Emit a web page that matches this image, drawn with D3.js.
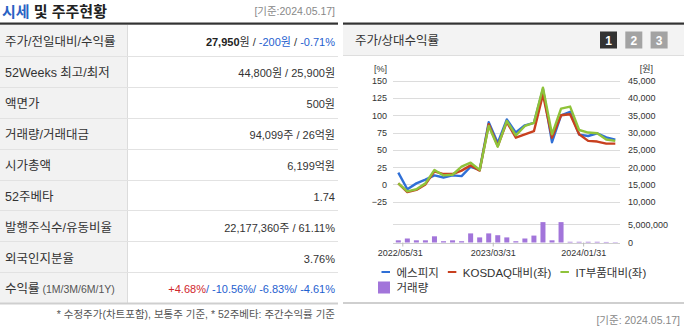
<!DOCTYPE html>
<html>
<head>
<meta charset="utf-8">
<script src="https://cdn.jsdelivr.net/npm/d3@7"></script>
<style>
  html, body { margin: 0; padding: 0; background: #fff; }
  svg { display: block; font-family: "Liberation Sans", "Noto Sans CJK KR", sans-serif; }
</style>
</head>
<body>
<svg id="page" width="684" height="327"></svg>
<script>
// ---- 시세 및 주주현황 table ----
const tableLabels = ["주가/전일대비/수익률", "52Weeks 최고/최저", "액면가", "거래량/거래대금", "시가총액",
  "52주베타", "발행주식수/유동비율", "외국인지분율", "수익률"];
const tableValues = [
  ["27,950원", "-200원", "-0.71%"],
  ["44,800원", "25,900원"],
  ["500원"],
  ["94,099주", "26억원"],
  ["6,199억원"],
  ["1.74"],
  ["22,177,360주", "61.11%"],
  ["3.76%"],
  ["+4.68%", "-10.56%", "-6.83%", "-4.61%"]
];
const baseDate = "2024.05.17";

// ---- 주가/상대수익률 chart ----
const dates = ["2022/05/31","2022/06/30","2022/07/31","2022/08/31","2022/09/30","2022/10/31","2022/11/30","2022/12/31",
  "2023/01/31","2023/02/28","2023/03/31","2023/04/30","2023/05/31","2023/06/30","2023/07/31","2023/08/31",
  "2023/09/30","2023/10/31","2023/11/30","2023/12/31","2024/01/31","2024/02/29","2024/03/31","2024/04/30","2024/05/17"];
// 에스피지 종가 (원, 우축)
const spgPrice = [18400,13600,15300,16400,17600,17000,17600,17400,20100,19200,33000,27000,33800,30000,32100,32800,
  42600,27200,35000,36000,29400,29000,29800,28600,27950];
// KOSDAQ 대비 상대수익률 (%, 좌축)
const kosdaqRel = [1.5,-11,-8,0,19,15,15,20,27.5,20,87,55.5,90,67.6,72.5,77,130,67.6,100,101.4,72.5,63,62,59,59];
// IT부품 대비 상대수익률 (%, 좌축)
const itRel = [1.5,-10,-7,1.5,20.8,13,14,25.6,31.4,21,84.5,54.6,91.8,71,84.5,89,140,72.5,109.6,112.6,78.7,75,74,65,63];
// 거래량 (주)
const volume = [600000,1100000,600000,600000,1700000,350000,600000,350000,2500000,1400000,2500000,2000000,1400000,
  350000,1100000,1900000,5600000,600000,5600000,200000,200000,200000,200000,150000,100000];
const pctTicks = [-25, 0, 25, 50, 75, 100, 125, 150];
const priceTicks = [10000, 15000, 20000, 25000, 30000, 35000, 40000, 45000];
const volTicks = [0, 5000000];
const dateTicks = ["2022/05/31", "2023/03/31", "2024/01/31"];
const seriesNames = ["에스피지", "KOSDAQ대비(좌)", "IT부품대비(좌)"];
const volumeName = "거래량";

const svg = d3.select("#page");
const BLUE = "#2f6fd6", RED = "#c8401f", GREEN = "#8fc33a", PURPLE = "#a275da";
const TXT = "#333";

// ===================== left panel =====================
const L = svg.append("g");
const title = L.append("text").attr("x", 2).attr("y", 11).attr("dominant-baseline", "central")
  .style("font-size", "15px").style("font-weight", "bold");
title.append("tspan").attr("fill", "#2a62c4").text("시세");
title.append("tspan").attr("fill", "#222").text(" 및 주주현황");
L.append("text").attr("x", 335).attr("y", 11).attr("text-anchor", "end").attr("dominant-baseline", "central")
  .style("font-size", "10.5px").attr("fill", "#888").text(`[기준:${baseDate}]`);

const tblTop = 25, rowH = 30.9, tblRight = 338, labelW = 127;
const rowY = d3.scaleLinear().domain([0, 1]).range([tblTop, tblTop + rowH]);
L.append("rect").attr("x", 0).attr("y", tblTop).attr("width", labelW).attr("height", rowH * tableLabels.length)
  .attr("fill", "#f2f2f2");
L.append("line").attr("x1", labelW + 0.5).attr("x2", labelW + 0.5).attr("y1", tblTop)
  .attr("y2", tblTop + rowH * tableLabels.length).attr("stroke", "#dcdcdc");
tableLabels.forEach((lab, i) => {
  if (i < tableLabels.length - 1) {
    L.append("line").attr("x1", 0).attr("x2", tblRight).attr("y1", Math.round(rowY(i + 1)) + 0.5)
      .attr("y2", Math.round(rowY(i + 1)) + 0.5).attr("stroke", "#e2e2e2");
  }
  const cy = rowY(i + 0.5) + 1.8;
  const t = L.append("text").attr("x", 5).attr("y", cy).attr("dominant-baseline", "central")
    .style("font-size", "12.5px").attr("fill", "#333");
  t.append("tspan").text(lab);
  if (i === tableLabels.length - 1) {
    t.append("tspan").style("font-size", "10.5px").attr("fill", "#555").text(" (1M/3M/6M/1Y)");
  }
  const v = L.append("text").attr("x", 335).attr("y", cy).attr("text-anchor", "end")
    .attr("dominant-baseline", "central").style("font-size", "11px").attr("fill", "#333");
  const sep = i === tableLabels.length - 1 ? "/ " : " / ";
  tableValues[i].forEach((part, j) => {
    const col = part.startsWith("-") ? "#1f5fcf" : part.startsWith("+") ? "#d0262c" : "#333";
    if (j > 0) {
      v.append("tspan").attr("fill", i === tableLabels.length - 1 ? col : "#333").text(sep);
    }
    if (i === 0 && j === 0) {
      const m = part.match(/^([\d,]+)(.*)$/);
      v.append("tspan").style("font-weight", "bold").attr("fill", "#222").text(m[1]);
      v.append("tspan").attr("fill", col).text(m[2]);
    } else {
      v.append("tspan").attr("fill", col).text(part);
    }
  });
});
// heavy rules
L.append("rect").attr("x", 0).attr("y", 22.5).attr("width", tblRight).attr("height", 2.2).attr("fill", "#333");
L.append("rect").attr("x", 0).attr("y", 302.5).attr("width", tblRight).attr("height", 2).attr("fill", "#cfcfcf");
L.append("text").attr("x", 335).attr("y", 314).attr("text-anchor", "end").attr("dominant-baseline", "central")
  .style("font-size", "10.5px").attr("fill", "#555").text("* 수정주가(차트포함), 보통주 기준, * 52주베타: 주간수익률 기준");

// ===================== right panel =====================
const R = svg.append("g");
const px0 = 343;
R.append("rect").attr("x", px0).attr("y", 24.5).attr("width", 684 - px0).attr("height", 31).attr("fill", "#f3f3f3");
R.append("line").attr("x1", px0).attr("x2", 684).attr("y1", 55.5).attr("y2", 55.5).attr("stroke", "#dedede");
R.append("rect").attr("x", px0).attr("y", 22.5).attr("width", 684 - px0).attr("height", 2.2).attr("fill", "#333");
R.append("text").attr("x", 355).attr("y", 41).attr("dominant-baseline", "central")
  .style("font-size", "12.5px").attr("fill", "#333").text("주가/상대수익률");
["1", "2", "3"].forEach((n, i) => {
  const bx = 600 + i * 25.3;
  R.append("rect").attr("x", bx).attr("y", 31.5).attr("width", 17).attr("height", 17)
    .attr("fill", i === 0 ? "#333" : "#a3a3a3");
  R.append("text").attr("x", bx + 8.5).attr("y", 40.5).attr("text-anchor", "middle").attr("dominant-baseline", "central")
    .style("font-size", "12px").style("font-weight", "bold").attr("fill", "#fff").text(n);
});

// scales
const gx0 = 393, gx1 = 620;
const x = d3.scaleLinear().domain([0, dates.length - 1]).range([398.3, 615.3]);
const yPct = d3.scaleLinear().domain([-25, 150]).range([201.7, 80.7]);
const yPrice = d3.scaleLinear().domain([10000, 45000]).range([201.7, 80.7]);
const yVol = d3.scaleLinear().domain([0, 5000000]).range([242.5, 224.3]);

// gridlines
R.append("g").selectAll("line").data(pctTicks).join("line")
  .attr("x1", gx0).attr("x2", gx1)
  .attr("y1", d => Math.round(yPct(d)) + 0.5).attr("y2", d => Math.round(yPct(d)) + 0.5)
  .attr("stroke", "#dcdcdc");
R.append("line").attr("x1", gx0).attr("x2", gx1)
  .attr("y1", Math.round(yVol(5000000)) + 0.5).attr("y2", Math.round(yVol(5000000)) + 0.5).attr("stroke", "#dcdcdc");

// axes
const axisStyle = g => {
  g.select(".domain").remove();
  g.selectAll(".tick line").remove();
  g.selectAll(".tick text").style("font-size", "9px").attr("fill", TXT)
    .style("font-family", "'Liberation Sans', 'Noto Sans CJK KR', sans-serif");
};
R.append("g").attr("transform", "translate(387,0)")
  .call(d3.axisLeft(yPct).tickValues(pctTicks).tickSize(0).tickPadding(0).tickFormat(d3.format("d"))).call(axisStyle);
R.append("g").attr("transform", "translate(628,0)")
  .call(d3.axisRight(yPrice).tickValues(priceTicks).tickSize(0).tickPadding(0).tickFormat(d3.format(","))).call(axisStyle);
R.append("g").attr("transform", "translate(628,0)")
  .call(d3.axisRight(yVol).tickValues(volTicks).tickSize(0).tickPadding(0).tickFormat(d3.format(","))).call(axisStyle);
R.append("text").attr("x", 387).attr("y", 68.5).attr("text-anchor", "end").attr("dominant-baseline", "central")
  .style("font-size", "9px").attr("fill", TXT).text("[%]");
R.append("text").attr("x", 653).attr("y", 68.5).attr("text-anchor", "end").attr("dominant-baseline", "central")
  .style("font-size", "9px").attr("fill", TXT).text("[원]");

// volume bars
R.append("g").selectAll("rect").data(volume).join("rect")
  .attr("x", (d, i) => x(i) - 2.5).attr("width", 5)
  .attr("y", d => yVol(d)).attr("height", d => yVol(0) - yVol(d))
  .attr("fill", PURPLE);

// date axis
const xa = R.append("g").attr("transform", `translate(0,${Math.round(yVol(0)) + 0.5})`);
xa.append("line").attr("x1", gx0).attr("x2", gx1).attr("stroke", "#cfcfcf");
const tickIdx = dateTicks.map(d => dates.indexOf(d));
xa.selectAll("line.tk").data(tickIdx).join("line").attr("class", "tk")
  .attr("x1", i => x(i + 0.5)).attr("x2", i => x(i + 0.5)).attr("y1", -1).attr("y2", 3).attr("stroke", "#bbb");
xa.selectAll("text").data(tickIdx).join("text")
  .attr("x", (i, k) => x(i + 0.5) - (k === 0 ? 2.5 : 0)).attr("y", 9).attr("text-anchor", "middle")
  .attr("dominant-baseline", "central").style("font-size", "9px").attr("fill", TXT)
  .text(i => dates[i]);

// lines
const linePct = d3.line().x((d, i) => x(i)).y(d => yPct(d));
const linePrice = d3.line().x((d, i) => x(i)).y(d => yPrice(d));
R.append("path").datum(spgPrice).attr("d", linePrice).attr("fill", "none").attr("stroke", BLUE)
  .attr("stroke-width", 2.4).attr("stroke-linejoin", "round");
R.append("path").datum(kosdaqRel).attr("d", linePct).attr("fill", "none").attr("stroke", RED)
  .attr("stroke-width", 2.4).attr("stroke-linejoin", "round");
R.append("path").datum(itRel).attr("d", linePct).attr("fill", "none").attr("stroke", GREEN)
  .attr("stroke-width", 2.4).attr("stroke-linejoin", "round");

// legend
const lg = R.append("g");
const lineColors = [BLUE, RED, GREEN];
let lx = 381.5;
seriesNames.forEach((name, i) => {
  lg.append("rect").attr("x", lx).attr("y", 271).attr("width", 8.5).attr("height", 2).attr("fill", lineColors[i]);
  const t = lg.append("text").attr("x", lx + 15).attr("y", 272.5).attr("dominant-baseline", "central")
    .style("font-size", "11.5px").attr("fill", "#333").text(name);
  lx = lx + 15 + t.node().getComputedTextLength() + 9;
});
lg.append("rect").attr("x", 378).attr("y", 281.5).attr("width", 12).attr("height", 12).attr("fill", PURPLE);
lg.append("text").attr("x", 396.5).attr("y", 288).attr("dominant-baseline", "central")
  .style("font-size", "11.5px").attr("fill", "#333").text(volumeName);

R.append("rect").attr("x", px0).attr("y", 302).attr("width", 684 - px0).attr("height", 2).attr("fill", "#cfcfcf");
R.append("text").attr("x", 680).attr("y", 320).attr("text-anchor", "end").attr("dominant-baseline", "central")
  .style("font-size", "10.5px").attr("fill", "#888").text(`[기준: ${baseDate}]`);
</script>
</body>
</html>
